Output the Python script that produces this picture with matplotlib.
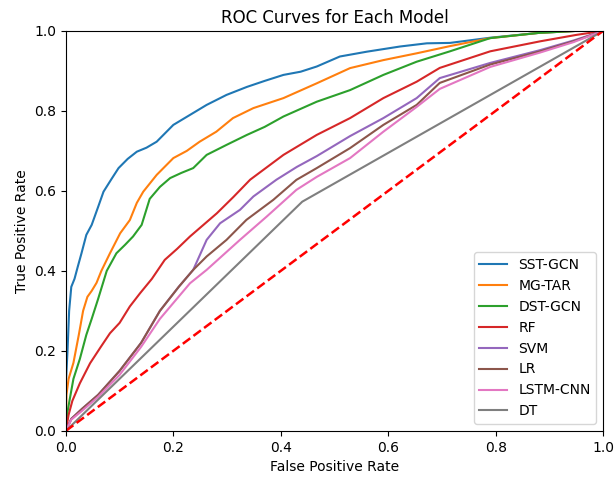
import matplotlib
matplotlib.use("Agg")
import matplotlib.pyplot as plt

models = ["SST-GCN", "MG-TAR", "DST-GCN", "RF", "SVM", "LR", "LSTM-CNN", "DT"]

fpr_sst = [0.0, 0.0, 0.003, 0.006, 0.010, 0.016, 0.022, 0.029, 0.038, 0.048, 0.060, 0.070, 0.085, 0.098, 0.115, 0.132, 0.150, 0.169, 0.200, 0.231, 0.262, 0.299, 0.337, 0.370, 0.405, 0.437, 0.467, 0.51, 0.56, 0.622, 0.672, 0.715, 0.79, 0.88, 0.95, 1.0]
tpr_sst = [0.0, 0.12, 0.20, 0.30, 0.36, 0.38, 0.41, 0.444, 0.49, 0.515, 0.56, 0.598, 0.63, 0.657, 0.68, 0.698, 0.708, 0.723, 0.765, 0.79, 0.815, 0.84, 0.86, 0.875, 0.89, 0.898, 0.911, 0.936, 0.948, 0.961, 0.969, 0.970, 0.983, 0.995, 1.0, 1.0]

fpr_mg = [0.0, 0.001, 0.005, 0.014, 0.024, 0.032, 0.040, 0.048, 0.057, 0.066, 0.082, 0.101, 0.119, 0.132, 0.144, 0.169, 0.200, 0.225, 0.249, 0.280, 0.311, 0.349, 0.405, 0.467, 0.529, 0.591, 0.653, 0.715, 0.79, 0.88, 0.95, 1.0]
tpr_mg = [0.0, 0.09, 0.13, 0.17, 0.24, 0.30, 0.335, 0.35, 0.37, 0.40, 0.444, 0.494, 0.527, 0.57, 0.598, 0.64, 0.682, 0.70, 0.723, 0.748, 0.782, 0.807, 0.832, 0.869, 0.907, 0.927, 0.944, 0.962, 0.982, 0.995, 1.0, 1.0]

fpr_dst = [0.0, 0.002, 0.007, 0.014, 0.026, 0.038, 0.048, 0.060, 0.076, 0.094, 0.110, 0.125, 0.141, 0.156, 0.175, 0.194, 0.215, 0.237, 0.262, 0.299, 0.337, 0.370, 0.405, 0.467, 0.529, 0.591, 0.653, 0.715, 0.79, 0.88, 0.95, 1.0]
tpr_dst = [0.0, 0.04, 0.078, 0.13, 0.18, 0.24, 0.28, 0.33, 0.40, 0.444, 0.465, 0.486, 0.515, 0.58, 0.61, 0.632, 0.645, 0.657, 0.69, 0.715, 0.74, 0.76, 0.786, 0.823, 0.852, 0.89, 0.923, 0.949, 0.982, 0.995, 1.0, 1.0]

fpr_rf = [0.0, 0.005, 0.012, 0.026, 0.045, 0.065, 0.082, 0.100, 0.119, 0.138, 0.160, 0.184, 0.207, 0.231, 0.256, 0.281, 0.312, 0.343, 0.405, 0.467, 0.529, 0.591, 0.653, 0.696, 0.79, 0.883, 0.95, 1.0]
tpr_rf = [0.0, 0.04, 0.075, 0.119, 0.169, 0.21, 0.244, 0.27, 0.311, 0.344, 0.38, 0.4275, 0.455, 0.486, 0.515, 0.544, 0.585, 0.628, 0.69, 0.74, 0.782, 0.832, 0.873, 0.9075, 0.949, 0.974, 0.99, 1.0]

fpr_svm = [0.0, 0.01, 0.03, 0.06, 0.10, 0.14, 0.175, 0.21, 0.237, 0.262, 0.287, 0.324, 0.349, 0.392, 0.43, 0.467, 0.529, 0.591, 0.653, 0.696, 0.79, 0.883, 0.945, 1.0]
tpr_svm = [0.0, 0.03, 0.055, 0.09, 0.15, 0.22, 0.30, 0.36, 0.4025, 0.4775, 0.519, 0.5525, 0.586, 0.628, 0.66, 0.687, 0.737, 0.782, 0.832, 0.882, 0.92, 0.952, 0.976, 1.0]

fpr_lr = [0.0, 0.01, 0.03, 0.06, 0.10, 0.14, 0.175, 0.21, 0.237, 0.262, 0.299, 0.336, 0.386, 0.429, 0.467, 0.529, 0.591, 0.653, 0.696, 0.79, 0.883, 0.945, 1.0]
tpr_lr = [0.0, 0.03, 0.055, 0.09, 0.15, 0.22, 0.30, 0.36, 0.4025, 0.436, 0.4775, 0.5275, 0.5775, 0.6275, 0.657, 0.707, 0.765, 0.815, 0.87, 0.916, 0.949, 0.974, 1.0]

fpr_lstm = [0.0, 0.01, 0.03, 0.06, 0.10, 0.14, 0.175, 0.231, 0.262, 0.324, 0.374, 0.429, 0.467, 0.529, 0.591, 0.653, 0.696, 0.79, 0.883, 0.945, 1.0]
tpr_lstm = [0.0, 0.028, 0.05, 0.085, 0.14, 0.21, 0.28, 0.369, 0.4025, 0.4775, 0.536, 0.6025, 0.635, 0.682, 0.748, 0.81, 0.855, 0.91, 0.946, 0.972, 1.0]

fpr_dt = [0.0, 0.44, 1.0]
tpr_dt = [0.0, 0.573, 1.0]

curves = [
    (fpr_sst, tpr_sst), (fpr_mg, tpr_mg), (fpr_dst, tpr_dst), (fpr_rf, tpr_rf),
    (fpr_svm, tpr_svm), (fpr_lr, tpr_lr), (fpr_lstm, tpr_lstm), (fpr_dt, tpr_dt),
]
colors = ["#1f77b4", "#ff7f0e", "#2ca02c", "#d62728", "#9467bd", "#8c564b", "#e377c2", "#7f7f7f"]

fig = plt.figure(figsize=(6.16, 4.83), dpi=100)
ax = fig.add_axes([0.107, 0.108, 0.872, 0.828])
for name, (f, t), c in zip(models, curves, colors):
    ax.plot(f, t, color=c, lw=1.5, label=name)
ax.plot([0, 1], [0, 1], "r--", lw=1.8)
ax.set_xlim(0, 1)
ax.set_ylim(0, 1)
ax.set_xlabel("False Positive Rate")
ax.set_ylabel("True Positive Rate")
ax.set_title("ROC Curves for Each Model")
ax.legend(loc="lower right")
fig.savefig("out.png", dpi=100)
